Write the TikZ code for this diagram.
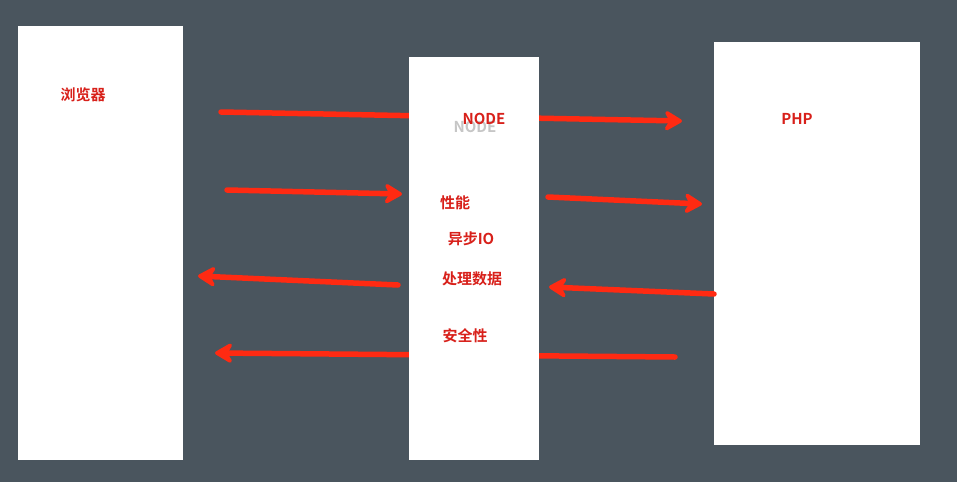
\documentclass[tikz,border=0pt]{standalone}
\usepackage{fontspec}
\newfontfamily\cjk{Noto Sans CJK SC}[BoldFont={Noto Sans CJK SC Bold}]
\usetikzlibrary{arrows.meta}
\definecolor{bg}{HTML}{4A555E}
\definecolor{arr}{HTML}{FF2A12}
\definecolor{txt}{HTML}{D8201A}
\begin{document}
\begin{tikzpicture}[x=1pt,y=-1pt,
  panel/.style={fill=white,draw=none},
  lbl/.style={text=txt,font=\cjk\bfseries\fontsize{15}{17}\selectfont,inner sep=0pt},
  harrow/.style={draw=arr,line width=5.5pt,line cap=round,-{Stealth[length=12pt,width=14pt,inset=4pt,round,scale=1.8]}}]
\fill[bg] (0,0) rectangle (957,482);
\useasboundingbox (0,0) rectangle (957,482);
\coordinate (a1s) at (221,112); \coordinate (a1e) at (682,121);
\coordinate (a2s) at (227,190); \coordinate (a2e) at (402,194);
\coordinate (a3s) at (548,197); \coordinate (a3e) at (702,204);
\coordinate (a4s) at (398,285); \coordinate (a4e) at (198,276);
\coordinate (a5s) at (714,294); \coordinate (a5e) at (549,287);
\coordinate (a6s) at (675,357); \coordinate (a6e) at (215,353);
\draw[harrow] (a1s) -- (a1e);
\draw[harrow] (a6s) -- (a6e);
\fill[panel] (18,26) rectangle (183,460);
\fill[panel] (409,57) rectangle (539,460);
\fill[panel] (714,42) rectangle (920,445);
\draw[harrow] (a2s) -- (a2e);
\draw[harrow] (a3s) -- (a3e);
\draw[harrow] (a4s) -- (a4e);
\draw[harrow] (a5s) -- (a5e);
\node[lbl] (browser) at (83,95) {浏览器};
\node[lbl,text=gray!45] (nodeshadow) at (475,127) {NODE};
\node[lbl] (node) at (484,119) {NODE};
\node[lbl] (php) at (797,119) {PHP};
\node[lbl] (perf) at (455,203) {性能};
\node[lbl] (async) at (471,239) {异步IO};
\node[lbl] (proc) at (472,279) {处理数据};
\node[lbl] (sec) at (465,336) {安全性};
\end{tikzpicture}
\end{document}
